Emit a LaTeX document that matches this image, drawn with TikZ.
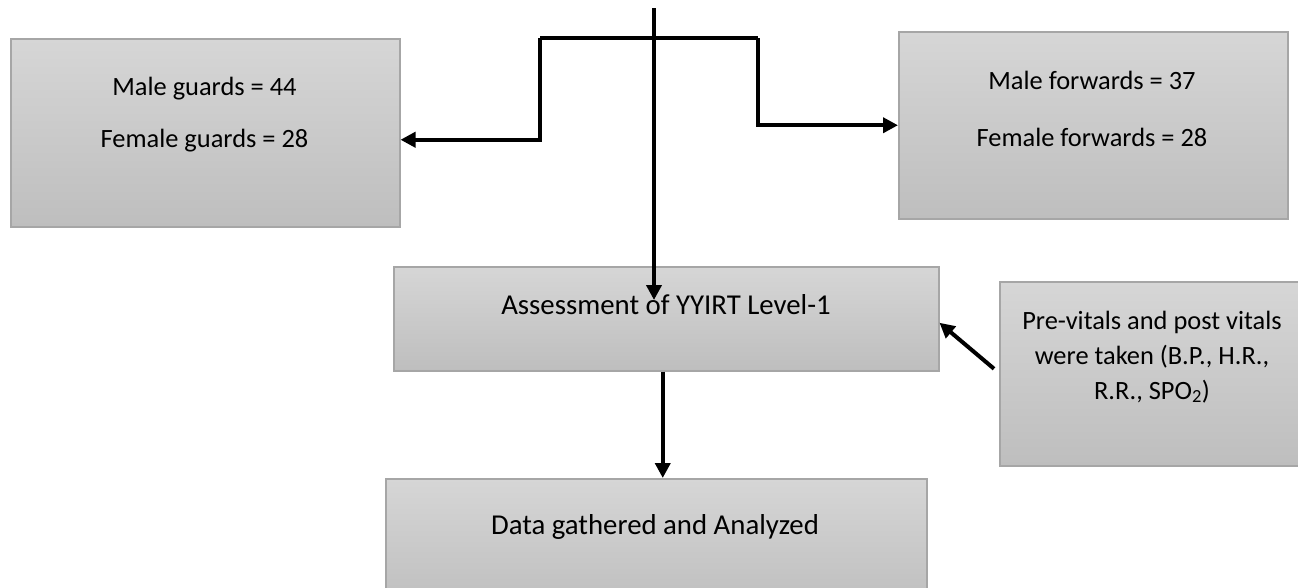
\documentclass[tikz,border=0pt]{standalone}
\usepackage{fontspec}
\setmainfont{Carlito}
\usetikzlibrary{arrows.meta}
\definecolor{boxtop}{HTML}{D6D6D6}
\definecolor{boxbot}{HTML}{BEBEBE}
\definecolor{boxline}{HTML}{A6A6A6}
\tikzset{
  panel/.style={rectangle, draw=boxline, line width=1.5pt, top color=boxtop, bottom color=boxbot, anchor=north west, inner sep=0pt},
  small/.style={anchor=base, inner sep=0pt, font=\fontsize{26.4pt}{35pt}\selectfont, text=black},
  big/.style={anchor=base, inner sep=0pt, font=\fontsize{28.8pt}{35pt}\selectfont, text=black},
  arr/.style={line width=4pt, -{Triangle[length=15pt,width=15pt]}, line join=miter},
  plain/.style={line width=4pt}
}
\begin{document}
\begin{tikzpicture}[x=1pt,y=-1pt]
\useasboundingbox (0,0) rectangle (1298,587);
\clip (0,0) rectangle (1298,587);
% boxes
\node[panel, minimum width=389pt, minimum height=188pt] (g) at (10,38) {};
\node[panel, minimum width=389pt, minimum height=187pt] (f) at (898,31) {};
\node[panel, minimum width=545pt, minimum height=104pt] (a) at (393,266) {};
\node[panel, minimum width=306pt, minimum height=184pt] (p) at (999,281) {};
\node[panel, minimum width=541pt, minimum height=130pt] (d) at (385,478) {};
% texts
\node[small] (g1) at (204.5,95) {Male guards = 44};
\node[small] (g2) at (204.5,147) {Female guards = 28};
\node[small] (f1) at (1092,89) {Male forwards = 37};
\node[small] (f2) at (1092,146) {Female forwards = 28};
\node[big] (a1) at (666,314) {Assessment of YYIRT Level-1};
\node[small] (p1) at (1152,329) {Pre-vitals and post vitals};
\node[small] (p2) at (1152,364) {were taken (B.P., H.R.,};
\node[small] (p3) at (1152,399) {R.R., SPO\textsubscript{2})};
\node[big] (d1) at (655,534) {Data gathered and Analyzed};
% connectors
\coordinate (src) at (654,8);
\coordinate (tip) at (654,300);
\coordinate (lk) at (540,38);
\coordinate (rk) at (758,38);
\draw[plain] (lk) -- (rk);
\draw[arr] (src) -- (tip);
\draw[arr] (lk) |- ([yshift=-7pt]g.east);
\draw[arr] (rk) |- (f.west);
\draw[arr] ([xshift=-3.5pt]a.south) -- ([xshift=-3.5pt]a.south |- d.north);
\draw[arr] ([xshift=-5pt,yshift=5pt]p.west) -- ([yshift=-4pt]a.east);
\end{tikzpicture}
\end{document}
